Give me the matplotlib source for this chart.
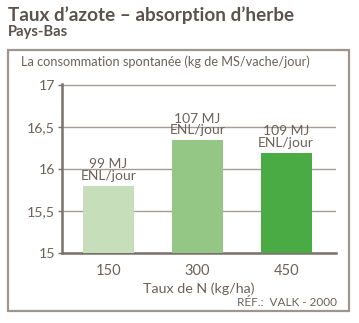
import matplotlib
matplotlib.use("Agg")
import matplotlib.pyplot as plt
from matplotlib.patches import Rectangle

plt.rcParams['font.family'] = ['Lato', 'DejaVu Sans']

categories = ['150', '300', '450']
values = [15.80, 16.34, 16.19]
bar_labels = ['99 MJ\nENL/jour', '107 MJ\nENL/jour', '109 MJ\nENL/jour']
bar_colors = ['#c6dfba', '#94c686', '#4aaa44']
yticks = [15, 15.5, 16, 16.5, 17]
ytick_labels = ['15', '15,5', '16', '16,5', '17']

text_col = '#6b625b'
axis_col = '#7b7069'

fig = plt.figure(figsize=(3.59, 3.23), dpi=100)
W, H = 359, 323

# frame around the chart
fig.patches.append(Rectangle((8 / W, 1 - 311 / H), 341 / W, 261 / H,
                             transform=fig.transFigure, fill=False,
                             edgecolor='#9c968f', linewidth=1.6))

fig.text(8 / W, 1 - 15 / H, "Taux d\u2019azote \u2013 absorption d\u2019herbe",
         fontsize=13.6, fontweight='bold', color='#59534f', va='center')
fig.text(8 / W, 1 - 32 / H, "Pays-Bas", fontsize=10.6, fontweight='bold',
         color='#59534f', va='center')
fig.text(21 / W, 1 - 62 / H, "La consommation spontan\u00e9e (kg de MS/vache/jour)",
         fontsize=9.2, color=text_col, va='center')

ax = fig.add_axes([62 / W, 1 - 253 / H, 274 / W, 169 / H])
x = range(len(categories))
bars = ax.bar(x, values, width=0.57, color=bar_colors, zorder=3)
ax.set_ylim(15, 17.01)
ax.set_xlim(-0.52, 2.56)
ax.set_yticks(yticks)
ax.set_yticklabels(ytick_labels)
ax.set_xticks(list(x))
ax.set_xticklabels(categories)
ax.grid(axis='y', color='#a39d97', linewidth=1.0, zorder=0)
ax.tick_params(axis='y', length=3, width=1, color=axis_col, labelcolor=text_col,
               labelsize=10.2, pad=2)
ax.tick_params(axis='x', length=0, labelcolor=text_col, labelsize=10.5, pad=8)
for side in ['top', 'right']:
    ax.spines[side].set_visible(False)
for side in ['left', 'bottom']:
    ax.spines[side].set_color(axis_col)
    ax.spines[side].set_linewidth(1.8)

for b, lab in zip(bars, bar_labels):
    ax.annotate(lab, (b.get_x() + b.get_width() / 2, b.get_height()),
                xytext=(0, 3), textcoords='offset points', ha='center', va='bottom',
                fontsize=10, color=text_col, linespacing=0.95)

ax.set_xlabel("Taux de N (kg/ha)", fontsize=10.3, color=text_col, labelpad=3)
fig.text(337 / W, 1 - 303 / H, "R\u00c9F.:  VALK - 2000", fontsize=8.5,
         color=text_col, ha='right', va='center')

fig.savefig('out.png', dpi=100)
